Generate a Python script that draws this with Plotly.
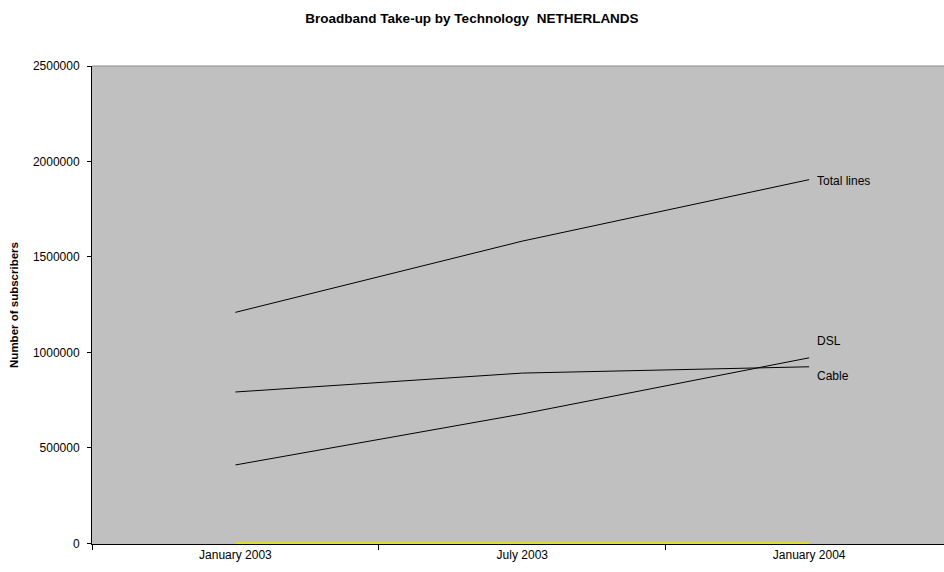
import plotly.graph_objects as go

categories = ["January 2003", "July 2003", "January 2004"]
total_lines = [1210000, 1583000, 1905000]
dsl = [411000, 678000, 972000]
cable = [793000, 892000, 925000]
other = [0, 0, 0]

series_labels = ["Total lines", "DSL", "Cable"]
y_ticks = [0, 500000, 1000000, 1500000, 2000000, 2500000]

FONT = "Liberation Sans, Arial, sans-serif"

fig = go.Figure()
fig.add_trace(go.Scatter(x=categories, y=other, mode="lines",
                         line=dict(color="#E6E600", width=2), showlegend=False,
                         hoverinfo="skip"))
for vals in (total_lines, dsl, cable):
    fig.add_trace(go.Scatter(x=categories, y=vals, mode="lines",
                             line=dict(color="#000000", width=1), showlegend=False))

label_shifts = [-1, 17, -9]
for name, vals, ys in zip(series_labels, (total_lines, dsl, cable), label_shifts):
    fig.add_annotation(x=categories[-1], y=vals[-1], text=name, showarrow=False,
                       xanchor="left", yanchor="middle", xshift=6, yshift=ys,
                       font=dict(family=FONT, size=12, color="#000000"))

fig.add_shape(type="line", xref="paper", yref="paper", x0=0, x1=1, y0=1, y1=1,
              line=dict(color="#8a8a8a", width=1))

fig.update_layout(
    width=944, height=572,
    margin=dict(l=92, r=0, t=66, b=28),
    paper_bgcolor="#FFFFFF", plot_bgcolor="#C0C0C0",
    title=dict(text="<b>Broadband Take-up by Technology  NETHERLANDS</b>",
               x=0.5, xanchor="center", y=0.968, yanchor="middle",
               font=dict(family=FONT, size=13.5, color="#000000")),
    xaxis=dict(type="category", categoryorder="array", categoryarray=categories,
               range=[-0.5, 2.47], tickson="boundaries", ticks="outside",
               ticklen=5, tickcolor="#000000", showline=True, linecolor="#000000",
               linewidth=1, showgrid=False, zeroline=False, layer="below traces",
               tickfont=dict(family=FONT, size=12, color="#000000")),
    yaxis=dict(range=[-3000, 2500000], tickvals=y_ticks,
               ticktext=[str(v) for v in y_ticks], ticks="outside", ticklen=4,
               tickcolor="#000000", showline=True, linecolor="#000000", linewidth=1,
               showgrid=False, zeroline=False, ticklabelstandoff=5,
               tickfont=dict(family=FONT, size=12, color="#000000"),
               title=dict(text="<b>Number of subscribers</b>", standoff=11,
                          font=dict(family=FONT, size=11.5, color="#000000"))),
)

fig.write_html("out.html")
